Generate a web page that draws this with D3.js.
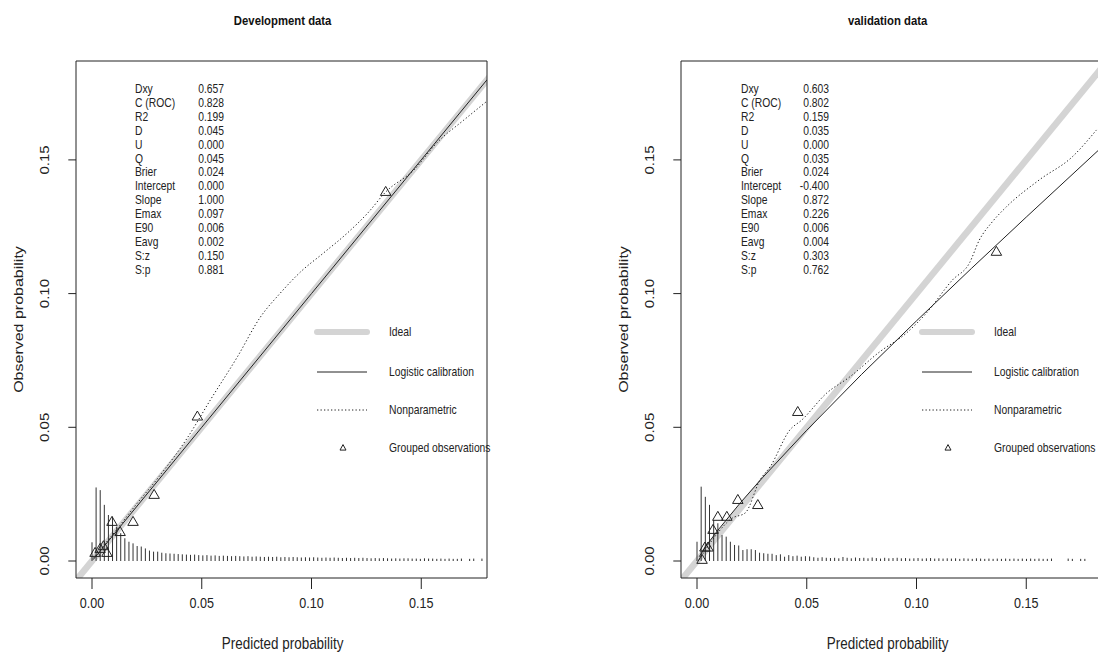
<!DOCTYPE html>
<html><head><meta charset="utf-8">
<script src="https://cdn.jsdelivr.net/npm/d3@7"></script>
<style>body{margin:0;background:#fff}svg{display:block}</style>
</head><body>
<svg id="c"></svg>
<script>
// ---------- data ----------
const panelTitles = ["Development data", "validation data"];
const xAxisTitle = "Predicted probability";
const yAxisTitle = "Observed probability";
const tickValues = [0, 0.05, 0.10, 0.15];
const tickLabels = ["0.00", "0.05", "0.10", "0.15"];
const legendLabels = ["Ideal", "Logistic calibration", "Nonparametric", "Grouped observations"];

const statNames = ["Dxy","C (ROC)","R2","D","U","Q","Brier","Intercept","Slope","Emax","E90","Eavg","S:z","S:p"];
const devStats = ["0.657","0.828","0.199","0.045","0.000","0.045","0.024","0.000","1.000","0.097","0.006","0.002","0.150","0.881"];
const valStats = ["0.603","0.802","0.159","0.035","0.000","0.035","0.024","-0.400","0.872","0.226","0.006","0.004","0.303","0.762"];

// grouped observations (triangles)
const devGroupPred = [0.0014, 0.0037, 0.0052, 0.0068, 0.0091, 0.0128, 0.0187, 0.0283, 0.048, 0.1338];
const devGroupObs  = [0.0030, 0.0045, 0.0055, 0.0030, 0.0146, 0.0108, 0.0146, 0.0247, 0.054, 0.1380];
const valGroupPred = [0.0023, 0.0036, 0.0050, 0.0073, 0.0095, 0.0136, 0.0186, 0.0277, 0.0459, 0.1364];
const valGroupObs  = [0.0004, 0.0050, 0.0050, 0.0116, 0.0165, 0.0165, 0.0228, 0.0209, 0.0557, 0.1156];

// logistic calibration curves
const devLogitPred = [0.0005, 0.05, 0.10, 0.15, 0.180];
const devLogitObs  = [0.0005, 0.05, 0.10, 0.15, 0.180];
const valLogitPred = [0.001, 0.005, 0.010, 0.020, 0.030, 0.050, 0.075, 0.100, 0.125, 0.150, 0.183];
const valLogitObs  = [0.0016, 0.0066, 0.0120, 0.0220, 0.0313, 0.0489, 0.0698, 0.0898, 0.1094, 0.1286, 0.1537];

// nonparametric (lowess) curves
const devNpPred = [0.0005, 0.005, 0.010, 0.020, 0.030, 0.0434, 0.0539, 0.0662, 0.0767, 0.0858, 0.0950, 0.1055, 0.1164, 0.1256, 0.1338, 0.1466, 0.1575, 0.1694, 0.1800];
const devNpObs  = [0.0010, 0.0055, 0.0105, 0.0210, 0.0310, 0.0460, 0.0602, 0.0763, 0.0912, 0.1002, 0.1081, 0.1152, 0.1227, 0.1301, 0.1380, 0.1462, 0.1567, 0.1649, 0.1720];
const valNpPred = [0.001, 0.008, 0.016, 0.022, 0.0287, 0.0333, 0.0423, 0.0477, 0.0591, 0.0695, 0.0832, 0.0955, 0.1045, 0.1164, 0.1241, 0.1286, 0.1345, 0.1409, 0.1559, 0.1709, 0.1820];
const valNpObs  = [0.0005, 0.0090, 0.0160, 0.0180, 0.0303, 0.0352, 0.0490, 0.0527, 0.0628, 0.0688, 0.0782, 0.0853, 0.0927, 0.1051, 0.1114, 0.1200, 0.1268, 0.1324, 0.1425, 0.1511, 0.1612];

// distribution of predicted risk (spike histogram), bin width in probability units
const devSpikeBinWidth = 0.00187;
const valSpikeBinWidth = 0.0019;
const devSpikes = [
  0.007, 0.0275, 0.0265, 0.021, 0.0172, 0.0166, 0.0128, 0.0104, 0.0085, 0.0072,
  0.0066, 0.0056, 0.0054, 0.0047, 0.0039, 0.0035, 0.0035, 0.0031, 0.0029, 0.0028,
  0.0027, 0.0026, 0.0025, 0.0024, 0.0023, 0.0024, 0.0022, 0.0021, 0.0022, 0.0020,
  0.0021, 0.0019, 0.0020, 0.0019, 0.0018, 0.0019, 0.0018, 0.0017, 0.0018, 0.0016,
  0.0017, 0.0016, 0.0015, 0.0016, 0.0015, 0.0016, 0.0014, 0.0015, 0.0014, 0.0015,
  0.0014, 0.0013, 0.0014, 0.0013, 0.0014, 0.0013, 0.0012, 0.0013, 0.0012, 0.0013,
  0.0012, 0.0011, 0.0012, 0.0011, 0.0012, 0.0011, 0.0012, 0.0011, 0.0010, 0.0011,
  0.0010, 0.0011, 0.0010, 0.0009, 0.0010, 0.0009, 0.0010, 0.0010, 0.0009, 0.0009,
  0.0008, 0.0010, 0.0009, 0.0009, 0.0008, 0.0009, 0.0008, 0.0009, 0.0008, 0.0008,
  0.0009, 0, 0.0008, 0.0009, 0, 0.0009];
const valSpikes = [
  0.0072, 0.0278, 0.024, 0.021, 0.0153, 0.0141, 0.0097, 0.0091, 0.0072, 0.006,
  0.0058, 0.0041, 0.0044, 0.0044, 0.0041, 0.0031, 0.0029, 0.0027, 0.0027, 0.0022,
  0.0025, 0.0016, 0.0022, 0.0018, 0.0020, 0.0016, 0.0018, 0.0017, 0.0014, 0.0012,
  0.0014, 0.0012, 0.0011, 0.0012, 0.0010, 0.0015, 0.0012, 0.0010, 0.0013, 0.0011,
  0.0012, 0.0010, 0.0013, 0.0011, 0.0009, 0.0012, 0.0010, 0.0011, 0.0012, 0.0010,
  0.0011, 0.0009, 0.0010, 0.0011, 0.0009, 0.0010, 0.0011, 0.0009, 0.0010, 0.0009,
  0.0010, 0.0009, 0.0010, 0.0008, 0.0010, 0.0009, 0.0008, 0.0010, 0.0009, 0.0008,
  0.0009, 0.0008, 0.0009, 0.0008, 0.0009, 0.0008, 0.0009, 0.0008, 0.0009, 0.0008,
  0.0009, 0.0008, 0.0009, 0.0008, 0.0008, 0.0009, 0, 0, 0, 0.0009,
  0.0008, 0, 0.0008, 0.0008];

// ---------- layout ----------
const W = 1098, H = 661, SX = 0.84;      // horizontal squeeze of the whole picture
const X = v => v / SX;                    // final pixel x -> viewBox x
const FONT = "'Liberation Sans', Arial, Helvetica, sans-serif";
const INK = "#222";

const svg = d3.select("#c")
  .attr("width", W).attr("height", H)
  .attr("viewBox", `0 0 ${W / SX} ${H}`)
  .attr("preserveAspectRatio", "none")
  .style("font-family", FONT);

const panels = [
  { title: panelTitles[0], box: [76, 487], zero: 92, stats: devStats, statX: [135, 224], legX: 317, binW: devSpikeBinWidth,
    gp: devGroupPred, go: devGroupObs, lp: devLogitPred, lo: devLogitObs, np: devNpPred, no: devNpObs, spikes: devSpikes },
  { title: panelTitles[1], box: [681, 1100], zero: 697, stats: valStats, statX: [741, 829], legX: 922, binW: valSpikeBinWidth,
    gp: valGroupPred, go: valGroupObs, lp: valLogitPred, lo: valLogitObs, np: valNpPred, no: valNpObs, spikes: valSpikes }
];
const boxTop = 61, boxBottom = 578;
const pxPerUnitX = 2195, pxPerUnitY = 2674, yZero = 561;

panels.forEach((p, idx) => {
  const g = svg.append("g");
  const x = d3.scaleLinear().domain([0, 0.15]).range([X(p.zero), X(p.zero + 0.15 * pxPerUnitX)]);
  const y = d3.scaleLinear().domain([0, 0.15]).range([yZero, yZero - 0.15 * pxPerUnitY]);
  const bx0 = X(p.box[0]), bx1 = X(p.box[1]);
  const cid = "clip" + idx;
  svg.append("clipPath").attr("id", cid).append("rect")
    .attr("x", bx0).attr("y", boxTop).attr("width", bx1 - bx0).attr("height", boxBottom - boxTop);
  const plot = g.append("g").attr("clip-path", `url(#${cid})`);

  // ideal line across whole plot region
  const lo = Math.min(x.invert(bx0), y.invert(boxBottom)), hi = Math.max(x.invert(bx1), y.invert(boxTop));
  plot.append("line")
    .attr("x1", x(lo)).attr("y1", y(lo)).attr("x2", x(hi)).attr("y2", y(hi))
    .attr("stroke", "#d4d4d4").attr("stroke-width", 6.5).attr("vector-effect", "non-scaling-stroke");

  // spike histogram
  plot.selectAll(".spk").data(p.spikes.map((h, i) => ({ v: i * p.binW, h })).filter(d => d.h > 0))
    .join("line")
    .attr("x1", d => x(d.v)).attr("x2", d => x(d.v))
    .attr("y1", y(0)).attr("y2", d => y(d.h))
    .attr("stroke", "#333").attr("stroke-width", 1).attr("vector-effect", "non-scaling-stroke");

  const line = d3.line().x(d => x(d[0])).y(d => y(d[1]));
  // logistic calibration
  plot.append("path").datum(p.lp.map((v, i) => [v, p.lo[i]]))
    .attr("d", line).attr("fill", "none").attr("stroke", INK).attr("stroke-width", 1)
    .attr("vector-effect", "non-scaling-stroke");
  // nonparametric
  plot.append("path").datum(p.np.map((v, i) => [v, p.no[i]]))
    .attr("d", d3.line().curve(d3.curveMonotoneX).x(d => x(d[0])).y(d => y(d[1])))
    .attr("fill", "none").attr("stroke", INK).attr("stroke-width", 1)
    .attr("stroke-dasharray", "1.3,2.2").attr("vector-effect", "non-scaling-stroke");

  // triangles
  const tri = (cx, cy, w, h) => `M${cx},${cy - h * 0.62}L${cx + X(w / 2)},${cy + h * 0.38}L${cx - X(w / 2)},${cy + h * 0.38}Z`;
  plot.selectAll(".tri").data(p.gp.map((v, i) => [v, p.go[i]])).join("path")
    .attr("d", d => tri(x(d[0]), y(d[1]), 10.5, 9))
    .attr("fill", "none").attr("stroke", INK).attr("stroke-width", 1).attr("vector-effect", "non-scaling-stroke");

  // box
  g.append("rect").attr("x", bx0).attr("y", boxTop).attr("width", bx1 - bx0).attr("height", boxBottom - boxTop)
    .attr("fill", "none").attr("stroke", INK).attr("stroke-width", 1).attr("vector-effect", "non-scaling-stroke");

  // x axis ticks + labels
  g.selectAll(".xt").data(tickValues).join("line")
    .attr("x1", d => x(d)).attr("x2", d => x(d)).attr("y1", boxBottom).attr("y2", boxBottom + 11)
    .attr("stroke", INK).attr("vector-effect", "non-scaling-stroke");
  g.selectAll(".xl").data(tickValues).join("text")
    .attr("x", d => x(d)).attr("y", 603).attr("dy", "0.35em").attr("text-anchor", "middle")
    .attr("font-size", 15).attr("fill", INK).text((d, i) => tickLabels[i]);
  // y axis ticks + labels
  g.selectAll(".yt").data(tickValues).join("line")
    .attr("x1", bx0).attr("x2", bx0 - X(7.7)).attr("y1", d => y(d)).attr("y2", d => y(d))
    .attr("stroke", INK).attr("vector-effect", "non-scaling-stroke");
  g.selectAll(".yl").data(tickValues).join("text")
    .attr("transform", d => `translate(${bx0 - X(31)},${y(d)}) rotate(-90)`)
    .attr("dy", "0.35em").attr("text-anchor", "middle")
    .attr("font-size", 15).attr("fill", INK).text((d, i) => tickLabels[i]);

  // titles
  const cx = X((p.box[0] + (p.zero + 0.181 * pxPerUnitX)) / 2);
  g.append("text").attr("x", cx).attr("y", 20).attr("dy", "0.35em").attr("text-anchor", "middle")
    .attr("font-size", 13.5).attr("font-weight", "bold").attr("fill", "#111").text(p.title);
  g.append("text").attr("x", cx).attr("y", 643).attr("dy", "0.35em").attr("text-anchor", "middle")
    .attr("font-size", 16).attr("fill", INK).text(xAxisTitle);
  g.append("text").attr("transform", `translate(${bx0 - X(58)},${(boxTop + boxBottom) / 2}) rotate(-90)`)
    .attr("dy", "0.35em").attr("text-anchor", "middle")
    .attr("font-size", 16).attr("fill", INK).text(yAxisTitle);

  // stats block
  const st = g.append("g").attr("font-size", 12.3).attr("fill", INK);
  statNames.forEach((n, i) => {
    const yy = 88.5 + i * 13.95;
    st.append("text").attr("x", X(p.statX[0])).attr("y", yy).attr("dy", "0.35em").text(n);
    st.append("text").attr("x", X(p.statX[1])).attr("y", yy).attr("dy", "0.35em").attr("text-anchor", "end").text(p.stats[i]);
  });

  // legend
  const lg = g.append("g");
  const rows = [332, 372, 410, 448];
  lg.append("line").attr("x1", X(p.legX)).attr("x2", X(p.legX + 50)).attr("y1", rows[0]).attr("y2", rows[0])
    .attr("stroke", "#d4d4d4").attr("stroke-width", 6).attr("stroke-linecap", "round").attr("vector-effect", "non-scaling-stroke");
  lg.append("line").attr("x1", X(p.legX)).attr("x2", X(p.legX + 50)).attr("y1", rows[1]).attr("y2", rows[1])
    .attr("stroke", INK).attr("stroke-width", 1).attr("vector-effect", "non-scaling-stroke");
  lg.append("line").attr("x1", X(p.legX)).attr("x2", X(p.legX + 50)).attr("y1", rows[2]).attr("y2", rows[2])
    .attr("stroke", INK).attr("stroke-width", 1).attr("stroke-dasharray", "1.3,2.2").attr("vector-effect", "non-scaling-stroke");
  lg.append("path").attr("d", tri(X(p.legX + 26), rows[3], 6, 5.5))
    .attr("fill", "none").attr("stroke", INK).attr("stroke-width", 1).attr("vector-effect", "non-scaling-stroke");
  legendLabels.forEach((t, i) => {
    lg.append("text").attr("x", X(p.legX + 72)).attr("y", rows[i]).attr("dy", "0.35em")
      .attr("font-size", 12.3).attr("fill", INK).text(t);
  });
});
</script>
</body></html>
